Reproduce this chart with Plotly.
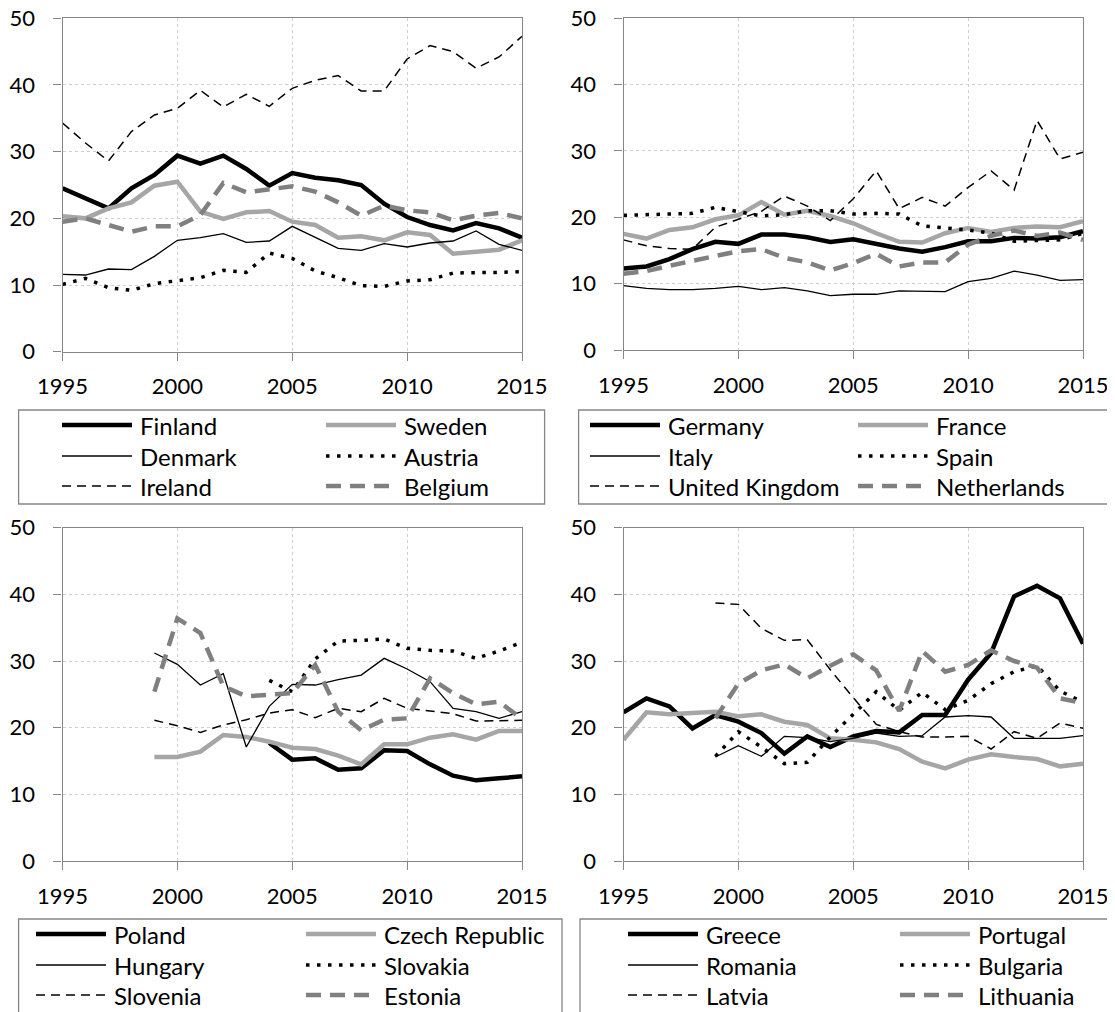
import plotly.graph_objects as go

# the page body has an 8px margin, so the figure is laid out 8px smaller
OFF = 8
W, H = 1115 - OFF, 1012 - OFF

years = list(range(1995, 2016))
gap4 = [None] * 4  # no data 1995-1998
gap9 = [None] * 9  # no data 1995-2003

# panel 1
finland = [24.5, 23.0, 21.5, 24.5, 26.5, 29.4, 28.2, 29.4, 27.4, 24.9, 26.8, 26.1, 25.7, 25.0, 22.2, 20.2, 19.0, 18.2, 19.3, 18.5, 17.1]
sweden = [20.3, 20.0, 21.5, 22.4, 24.9, 25.5, 21.0, 19.9, 20.9, 21.1, 19.5, 19.0, 17.1, 17.3, 16.7, 17.9, 17.5, 14.7, 15.0, 15.3, 16.7]
denmark = [11.6, 11.5, 12.4, 12.3, 14.3, 16.7, 17.1, 17.7, 16.4, 16.6, 18.8, 17.1, 15.5, 15.2, 16.2, 15.7, 16.3, 16.6, 18.1, 16.1, 15.2]
austria = [10.1, 11.0, 9.6, 9.2, 10.2, 10.6, 11.1, 12.2, 11.9, 14.8, 14.0, 12.1, 11.1, 9.9, 9.8, 10.6, 10.8, 11.8, 11.8, 11.9, 12.0]
ireland = [34.3, 31.3, 28.6, 33.0, 35.5, 36.5, 39.2, 36.7, 38.6, 36.8, 39.5, 40.7, 41.4, 39.1, 39.1, 43.9, 45.9, 45.0, 42.5, 44.2, 47.3]
belgium = [19.5, 20.0, 19.0, 18.0, 18.8, 18.8, 20.5, 25.3, 23.9, 24.3, 24.8, 24.0, 22.4, 20.4, 21.9, 21.2, 20.9, 19.7, 20.4, 20.8, 20.0]

# panel 2
germany = [12.3, 12.6, 13.7, 15.2, 16.3, 16.0, 17.4, 17.4, 17.0, 16.3, 16.7, 16.0, 15.3, 14.8, 15.5, 16.4, 16.4, 16.9, 16.8, 17.0, 17.9]
france = [17.5, 16.8, 18.1, 18.5, 19.7, 20.3, 22.3, 20.4, 21.0, 20.2, 19.1, 17.6, 16.3, 16.2, 17.6, 18.4, 17.8, 18.4, 18.6, 18.5, 19.4]
italy = [9.7, 9.3, 9.1, 9.1, 9.3, 9.6, 9.1, 9.4, 8.9, 8.2, 8.4, 8.4, 8.9, 8.9, 8.8, 10.3, 10.8, 11.9, 11.3, 10.5, 10.6]
spain = [20.3, 20.4, 20.4, 20.6, 21.5, 20.8, 20.2, 20.4, 21.0, 21.0, 20.5, 20.6, 20.5, 18.7, 18.4, 18.1, 17.6, 16.4, 16.5, 16.6, 17.6]
uk = [16.6, 15.7, 15.3, 15.2, 18.5, 19.7, 20.9, 23.2, 21.7, 19.5, 22.8, 27.0, 21.3, 23.0, 21.7, 24.5, 27.0, 24.1, 34.6, 28.8, 29.8]
netherlands = [11.5, 11.9, 12.7, 13.4, 14.2, 14.9, 15.2, 13.9, 13.2, 12.0, 13.1, 14.5, 12.6, 13.2, 13.2, 15.9, 17.2, 18.0, 17.2, 17.7, 16.6]

# panel 3
poland = gap9 + [17.7, 15.2, 15.4, 13.7, 13.9, 16.6, 16.5, 14.5, 12.8, 12.1, 12.4, 12.7]
czech = gap4 + [15.6, 15.6, 16.4, 18.9, 18.6, 17.9, 17.0, 16.8, 15.8, 14.5, 17.5, 17.5, 18.5, 19.0, 18.2, 19.5, 19.5]
hungary = gap4 + [31.2, 29.5, 26.4, 28.1, 17.1, 23.2, 26.5, 26.4, 27.2, 27.9, 30.4, 28.8, 26.9, 22.9, 22.4, 21.4, 22.4]
slovakia = gap9 + [27.1, 25.4, 30.3, 33.0, 33.1, 33.3, 31.9, 31.6, 31.5, 30.4, 31.5, 32.8]
slovenia = gap4 + [21.1, 20.3, 19.3, 20.4, 21.2, 22.2, 22.7, 21.5, 22.9, 22.4, 24.4, 22.9, 22.5, 22.1, 21.0, 21.0, 21.1]
estonia = gap4 + [25.4, 36.4, 34.2, 26.2, 24.7, 25.0, 25.2, 29.4, 22.4, 19.6, 21.2, 21.4, 27.4, 25.2, 23.5, 23.9, 21.3]

# panel 4
greece = [22.3, 24.4, 23.2, 19.9, 21.9, 20.9, 19.2, 16.1, 18.7, 17.1, 18.7, 19.5, 19.3, 21.9, 21.9, 27.2, 31.2, 39.7, 41.3, 39.4, 32.6]
portugal = [18.2, 22.3, 22.0, 22.2, 22.4, 21.7, 22.0, 20.9, 20.4, 18.4, 18.2, 17.8, 16.8, 14.9, 13.9, 15.2, 16.0, 15.6, 15.3, 14.2, 14.6]
romania = gap4 + [15.6, 17.3, 15.7, 18.7, 18.5, 17.9, 18.4, 19.2, 18.7, 18.8, 21.6, 21.8, 21.6, 18.4, 18.4, 18.4, 18.8]
bulgaria = gap4 + [15.7, 19.4, 17.1, 14.6, 14.8, 18.6, 22.0, 25.4, 22.6, 25.3, 22.7, 24.1, 26.6, 28.4, 29.3, 25.5, 23.8]
latvia = gap4 + [38.7, 38.5, 34.9, 33.1, 33.2, 28.7, 24.5, 20.5, 19.4, 18.6, 18.6, 18.7, 16.8, 19.4, 18.4, 20.7, 19.9]
lithuania = gap4 + [21.4, 26.6, 28.6, 29.5, 27.4, 29.3, 31.0, 28.6, 22.5, 31.5, 28.4, 29.4, 31.6, 30.0, 29.0, 24.4, 23.7]

# same six line styles in every panel, in legend order
styles = [
    dict(color="#000000", width=4.5, dash="solid"),
    dict(color="#a6a6a6", width=4.5, dash="solid"),
    dict(color="#000000", width=1.3, dash="solid"),
    dict(color="#000000", width=3.5, dash="3.5px,7.5px"),
    dict(color="#000000", width=1.5, dash="9px,6px"),
    dict(color="#808080", width=4.5, dash="15px,9px"),
]

# pixel layout (page coordinates) of each panel: plot area, legend box, legend column starts
panels = [
    dict(names=["Finland", "Sweden", "Denmark", "Austria", "Ireland", "Belgium"],
         data=[finland, sweden, denmark, austria, ireland, belgium],
         px=(62.5, 522), py=(18.3, 351.7), box=(18.6, 544.6, 410, 504), cols=(62, 326)),
    dict(names=["Germany", "France", "Italy", "Spain", "United Kingdom", "Netherlands"],
         data=[germany, france, italy, spain, uk, netherlands],
         px=(623.5, 1083), py=(18.3, 350), box=(578.6, 1130, 410, 504), cols=(590, 858)),
    dict(names=["Poland", "Czech Republic", "Hungary", "Slovakia", "Slovenia", "Estonia"],
         data=[poland, czech, hungary, slovakia, slovenia, estonia],
         px=(62.5, 522), py=(527.7, 861), box=(18.6, 562, 919, 1030), cols=(36, 306)),
    dict(names=["Greece", "Portugal", "Romania", "Bulgaria", "Latvia", "Lithuania"],
         data=[greece, portugal, romania, bulgaria, latvia, lithuania],
         px=(623.5, 1083), py=(527.7, 861), box=(580, 1130, 919, 1030), cols=(628, 900)),
]

FONT = "Lato, Roboto, sans-serif"
AXIS_GREY = "#868686"


def fx(v):
    return (v - OFF) / W


def fy(v):
    return 1 - (v - OFF) / H


fig = go.Figure()
shapes = []
annotations = []

for i, p in enumerate(panels, start=1):
    xa = "x" if i == 1 else f"x{i}"
    ya = "y" if i == 1 else f"y{i}"
    for name, vals, st in zip(p["names"], p["data"], styles):
        fig.add_trace(go.Scatter(x=years, y=vals, name=name, mode="lines", xaxis=xa, yaxis=ya,
                                 line=st, connectgaps=False, showlegend=False))

    axis_common = dict(showline=True, linecolor=AXIS_GREY, linewidth=1.3, mirror=True,
                       ticks="outside", ticklen=8, tickcolor=AXIS_GREY, tickwidth=1.3,
                       showgrid=True, gridcolor="#cfcfcf", griddash="dot", gridwidth=1,
                       zeroline=False, automargin=False, ticklabeloverflow="allow",
                       tickfont=dict(family=FONT, size=22, color="#000000"))
    fig.update_layout({
        ("xaxis" if i == 1 else f"xaxis{i}"): dict(
            axis_common, domain=[fx(p["px"][0]), fx(p["px"][1])], range=[1995, 2015],
            tickvals=[1995, 2000, 2005, 2010, 2015], anchor=ya, ticklabelstandoff=7),
        ("yaxis" if i == 1 else f"yaxis{i}"): dict(
            axis_common, domain=[fy(p["py"][1]), fy(p["py"][0])], range=[0, 50],
            tickvals=[0, 10, 20, 30, 40, 50], anchor=xa, ticklabelstandoff=14),
    })

    # legend box with two columns of line samples
    bx0, bx1, by0, by1 = p["box"]
    shapes.append(dict(type="rect", xref="paper", yref="paper", x0=fx(bx0), x1=fx(bx1),
                       y0=fy(by1), y1=fy(by0), line=dict(color=AXIS_GREY, width=1.3)))
    rows = [by0 + 15, by0 + 46, by0 + 76]
    for k, (name, st) in enumerate(zip(p["names"], styles)):
        x0 = p["cols"][k % 2]
        yy = rows[k // 2]
        shapes.append(dict(type="line", xref="paper", yref="paper", x0=fx(x0), x1=fx(x0 + 70),
                           y0=fy(yy), y1=fy(yy), line=st))
        annotations.append(dict(xref="paper", yref="paper", x=fx(x0 + 76), y=fy(yy), text=name,
                                showarrow=False, xanchor="left", yanchor="middle",
                                font=dict(family=FONT, size=24, color="#000000")))

fig.update_layout(width=W, height=H, margin=dict(l=0, r=0, t=0, b=0, autoexpand=False),
                  paper_bgcolor="white", plot_bgcolor="white",
                  shapes=shapes, annotations=annotations, showlegend=False)

fig.write_html("out.html")
